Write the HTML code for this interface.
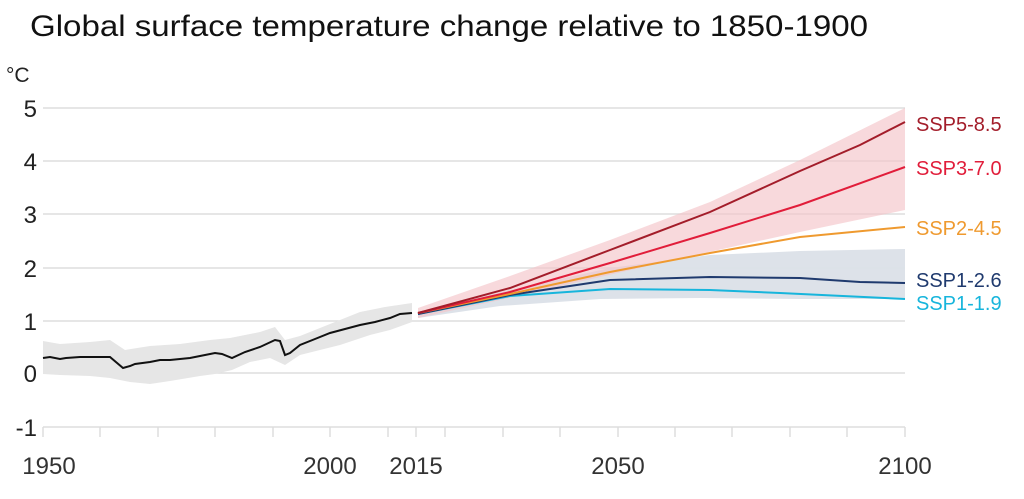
<!DOCTYPE html>
<html><head><meta charset="utf-8"><style>
body{margin:0;background:#fff;width:1024px;height:494px;overflow:hidden;font-family:"Liberation Sans",sans-serif}
</style></head><body>
<svg width="1024" height="494" xmlns="http://www.w3.org/2000/svg" font-family="Liberation Sans, sans-serif">
<text x="30" y="36" font-size="30" fill="#111" textLength="838" lengthAdjust="spacingAndGlyphs">Global surface temperature change relative to 1850-1900</text>
<text x="6" y="82" font-size="21" fill="#222">°C</text>
<g stroke="#ddd" stroke-width="1.5">
<line x1="43" x2="905" y1="108" y2="108"/><line x1="43" x2="905" y1="161" y2="161"/>
<line x1="43" x2="905" y1="214" y2="214"/><line x1="43" x2="905" y1="268" y2="268"/>
<line x1="43" x2="905" y1="321" y2="321"/><line x1="43" x2="905" y1="373" y2="373"/>
<line x1="43" x2="905" y1="427" y2="427"/>
</g>
<g stroke="#ddd" stroke-width="1.5">
<line x1="43" x2="43" y1="427" y2="437"/><line x1="100" x2="100" y1="427" y2="437"/>
<line x1="158" x2="158" y1="427" y2="437"/><line x1="215" x2="215" y1="427" y2="437"/>
<line x1="273" x2="273" y1="427" y2="437"/><line x1="330" x2="330" y1="427" y2="437"/>
<line x1="388" x2="388" y1="427" y2="437"/><line x1="416" x2="416" y1="427" y2="437"/>
<line x1="445" x2="445" y1="427" y2="437"/><line x1="503" x2="503" y1="427" y2="437"/>
<line x1="560" x2="560" y1="427" y2="437"/><line x1="618" x2="618" y1="427" y2="437"/>
<line x1="675" x2="675" y1="427" y2="437"/><line x1="732" x2="732" y1="427" y2="437"/>
<line x1="790" x2="790" y1="427" y2="437"/><line x1="847" x2="847" y1="427" y2="437"/>
<line x1="905" x2="905" y1="427" y2="437"/>
</g>
<g font-size="24" fill="#222" text-anchor="end">
<text x="37" y="117">5</text><text x="37" y="170">4</text><text x="37" y="223">3</text>
<text x="37" y="277">2</text><text x="37" y="330">1</text><text x="37" y="382">0</text><text x="37" y="436">-1</text>
</g>
<g font-size="24" fill="#333" text-anchor="middle">
<text x="49" y="474">1950</text><text x="330" y="474">2000</text><text x="416" y="474">2015</text>
<text x="618" y="474">2050</text><text x="905" y="474">2100</text>
</g>
<polygon fill="#e6e6e6" points="43,341 60,344 90,342 110,340 125,350 150,346 180,344 210,340 230,338 260,332 275,327 285,340 300,336 330,324 360,312 385,307 412,303 412,322 390,330 370,335 340,345 320,350 300,355 285,365 270,358 250,362 232,370 215,374 200,376 170,381 150,384 130,382 110,378 90,376 60,375 43,374"/>
<polyline fill="none" stroke="#111" stroke-width="2" points="43,358 50,357 60,359 66,358 80,357 110,357 123,368 130,366 135,364 150,362 160,360 170,360 190,358 200,356 215,353 222,354 232,358 245,352 260,347 275,340 280,341 285,355 290,353 300,345 315,339 330,333 345,329 360,325 375,322 390,318 400,314 412,313"/>
<polygon fill="#dbe0e8" opacity="0.95" points="418,312 510,290 610,268 710,255 800,251 905,249 905,299 800,299 700,298 600,299 500,306 418,318"/>
<polygon fill="#f4c4ca" opacity="0.65" points="418,308 510,276 610,240 710,202 800,160 905,108 905,210 800,232 700,254 600,277 500,300 418,318"/>
<polyline fill="none" stroke="#17b5dc" stroke-width="2" points="418,314 510,296 610,289 710,290 780,293 905,299"/>
<polyline fill="none" stroke="#1f3a6e" stroke-width="2" points="418,314 510,295 610,280 710,277 800,278 860,282 905,283"/>
<polyline fill="none" stroke="#ef9a2f" stroke-width="2" points="418,313 510,294 610,272 710,253 800,237 905,227"/>
<polyline fill="none" stroke="#e11d3a" stroke-width="2" points="418,313 510,292 610,263 710,233 800,205 905,167"/>
<polyline fill="none" stroke="#a31d2a" stroke-width="2" points="418,313 510,288 610,250 710,212 800,171 860,145 905,122"/>
<g font-size="20">
<text x="916" y="131" fill="#a31d2a">SSP5-8.5</text>
<text x="916" y="175" fill="#e11d3a">SSP3-7.0</text>
<text x="916" y="235" fill="#ef9a2f">SSP2-4.5</text>
<text x="916" y="287" fill="#1f3a6e">SSP1-2.6</text>
<text x="916" y="310" fill="#17b5dc">SSP1-1.9</text>
</g>
</svg>
</body></html>
